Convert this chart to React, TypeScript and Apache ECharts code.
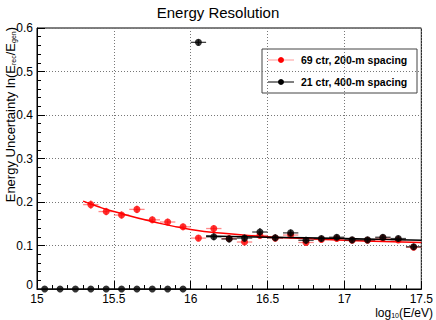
import React, { useEffect, useRef } from "react";
import * as echarts from "echarts";

const FONT = "Liberation Sans, Arial, Helvetica, sans-serif";

const titleText = "Energy Resolution";
const legendNames = ["69 ctr, 200-m spacing", "21 ctr, 400-m spacing"];
const xTicks = [15, 15.5, 16, 16.5, 17, 17.5];

// red: 69 ctr, 200-m spacing
const redX = [15.35, 15.45, 15.55, 15.65, 15.75, 15.85, 15.95, 16.05, 16.15, 16.25, 16.35, 16.45, 16.55, 16.65, 16.75, 16.85, 16.95, 17.05, 17.15, 17.25, 17.35, 17.45];
const redY = [0.194, 0.178, 0.170, 0.183, 0.159, 0.154, 0.143, 0.117, 0.139, 0.116, 0.108, 0.123, 0.117, 0.124, 0.107, 0.114, 0.116, 0.112, 0.112, 0.117, 0.113, 0.096];
const redYErr = [0.010, 0.009, 0.009, 0.009, 0.008, 0.008, 0.008, 0.007, 0.008, 0.007, 0.007, 0.007, 0.007, 0.007, 0.007, 0.007, 0.007, 0.007, 0.007, 0.007, 0.007, 0.007];

// black: 21 ctr, 400-m spacing
const blackX = [15.05, 15.15, 15.25, 15.35, 15.45, 15.55, 15.65, 15.75, 15.85, 15.95, 16.05, 16.15, 16.25, 16.35, 16.45, 16.55, 16.65, 16.75, 16.85, 16.95, 17.05, 17.15, 17.25, 17.35, 17.45];
const blackY = [0, 0, 0, 0, 0, 0, 0, 0, 0, 0, 0.567, 0.120, 0.115, 0.117, 0.131, 0.118, 0.129, 0.112, 0.116, 0.119, 0.113, 0.113, 0.119, 0.116, 0.097];
const blackYErr = [0, 0, 0, 0, 0, 0, 0, 0, 0, 0, 0.007, 0.008, 0.008, 0.008, 0.009, 0.008, 0.008, 0.008, 0.007, 0.007, 0.007, 0.007, 0.007, 0.007, 0.007];

const binHalfWidth = 0.05;

// fit curves
const redFitX = [15.3, 15.4, 15.5, 15.75, 16, 16.25, 16.5, 16.75, 17, 17.25, 17.5];
const redFitY = [0.202, 0.189, 0.178, 0.155, 0.137, 0.127, 0.120, 0.116, 0.112, 0.109, 0.107];
const blackFitX = [16.1, 16.5, 17, 17.5];
const blackFitY = [0.122, 0.119, 0.116, 0.112];

function errorSeries(xs: number[], ys: number[], es: number[], color: string, z: number) {
  return {
    type: "custom",
    z,
    silent: true,
    data: xs.map((x, i) => [x, ys[i], es[i]]),
    renderItem: (params: any, api: any) => {
      const x = api.value(0);
      const y = api.value(1);
      const e = api.value(2);
      const l = api.coord([x - binHalfWidth, y]);
      const r = api.coord([x + binHalfWidth, y]);
      const t = api.coord([x, y + e]);
      const b = api.coord([x, y - e]);
      const style = { stroke: color, lineWidth: 1.3 };
      return {
        type: "group",
        children: [
          { type: "line", shape: { x1: l[0], y1: l[1], x2: r[0], y2: r[1] }, style },
          { type: "line", shape: { x1: t[0], y1: t[1], x2: b[0], y2: b[1] }, style },
        ],
      };
    },
  };
}

export default function App() {
  const ref = useRef<HTMLDivElement>(null);
  useEffect(() => {
    document.body.style.margin = "0";
    const chart = echarts.init(ref.current!, null, { renderer: "svg" });
    const gridLine = { show: true, lineStyle: { color: "#777", type: [1, 2], width: 1 } };
    chart.setOption({
      animation: false,
      backgroundColor: "#fff",
      textStyle: { fontFamily: FONT },
      grid: { left: 37, right: 11, top: 28, bottom: 31, show: true, borderColor: "#000", borderWidth: 1, backgroundColor: "transparent" },
      xAxis: {
        type: "value",
        min: 15,
        max: 17.5,
        interval: 0.5,
        axisLine: { show: true, lineStyle: { color: "#000", width: 1 } },
        axisTick: { show: true, inside: true, length: 8, lineStyle: { color: "#000" } },
        minorTick: { show: true, splitNumber: 5, length: 4, lineStyle: { color: "#000" } },
        splitLine: gridLine,
        axisLabel: {
          color: "#000",
          fontSize: 12,
          fontFamily: FONT,
          margin: 4,
          lineHeight: 12,
          showMinLabel: true,
          showMaxLabel: true,
          formatter: (v: number) => (xTicks.includes(v) ? String(v) : ""),
        },
      },
      yAxis: {
        type: "value",
        min: 0,
        max: 0.6,
        interval: 0.1,
        axisLine: { show: true, lineStyle: { color: "#000", width: 1 } },
        axisTick: { show: true, inside: true, length: 8, lineStyle: { color: "#000" } },
        minorTick: { show: true, splitNumber: 5, length: 4, lineStyle: { color: "#000" } },
        splitLine: gridLine,
        axisLabel: {
          color: "#000",
          fontSize: 12,
          fontFamily: FONT,
          margin: 4,
          formatter: (v: number) => (v === 0 ? "{z|0}" : String(Math.round(v * 10) / 10)),
          rich: { z: { fontSize: 12, fontFamily: FONT, color: "#000", lineHeight: 12, padding: [0, 0, 8, 0] } },
        },
      },
      title: {
        text: titleText,
        left: "center",
        top: 0,
        textStyle: { fontSize: 15, fontWeight: "normal", color: "#000", fontFamily: FONT },
      },
      series: [
        errorSeries(redX, redY, redYErr, "rgba(255,40,40,0.55)", 2),
        {
          type: "scatter",
          name: legendNames[0],
          data: redX.map((x, i) => [x, redY[i]]),
          symbol: "circle",
          symbolSize: 7,
          itemStyle: { color: "#ff0000" },
          z: 3,
        },
        {
          type: "line",
          data: redFitX.map((x, i) => [x, redFitY[i]]),
          smooth: true,
          showSymbol: false,
          lineStyle: { color: "#ff0000", width: 1.5 },
          z: 4,
        },
        errorSeries(blackX, blackY, blackYErr, "rgba(20,20,20,0.8)", 5),
        {
          type: "scatter",
          name: legendNames[1],
          data: blackX.map((x, i) => [x, blackY[i]]),
          symbol: "circle",
          symbolSize: 7,
          itemStyle: { color: "#000" },
          z: 6,
        },
        {
          type: "line",
          data: blackFitX.map((x, i) => [x, blackFitY[i]]),
          smooth: true,
          showSymbol: false,
          lineStyle: { color: "#000", width: 1.5 },
          z: 7,
        },
      ],
      graphic: [
        {
          type: "text",
          x: 9,
          y: 27,
          rotation: Math.PI / 2,
          style: {
            text: "{a|Energy Uncertainty ln(E}{s|rec}{a|/E}{s|gen}{a|)}",
            align: "right",
            verticalAlign: "middle",
            fill: "#000",
            rich: {
              a: { fontSize: 13, fontFamily: FONT, fill: "#000", verticalAlign: "bottom", lineHeight: 15 },
              s: { fontSize: 7, fontFamily: FONT, fill: "#000", verticalAlign: "bottom", lineHeight: 11 },
            },
          },
        },
        {
          type: "text",
          x: 433,
          y: 313,
          style: {
            text: "{a|log}{s|10}{a|(E/eV)}",
            align: "right",
            verticalAlign: "middle",
            fill: "#000",
            rich: {
              a: { fontSize: 12, fontFamily: FONT, fill: "#000", verticalAlign: "bottom", lineHeight: 12 },
              s: { fontSize: 7, fontFamily: FONT, fill: "#000", verticalAlign: "bottom", lineHeight: 5 },
            },
          },
        },
        {
          type: "group",
          z: 100,
          children: [
            { type: "rect", shape: { x: 262, y: 49, width: 155, height: 44 }, style: { fill: "#fff", stroke: "#444", lineWidth: 1 } },
            { type: "line", shape: { x1: 268, y1: 60, x2: 294, y2: 60 }, style: { stroke: "#ff9a9a", lineWidth: 1 } },
            { type: "circle", shape: { cx: 281, cy: 60, r: 3 }, style: { fill: "#ff0000" } },
            { type: "text", x: 301, y: 60, style: { text: legendNames[0], fill: "#000", fontSize: 10.5, fontWeight: "bold", fontFamily: FONT, verticalAlign: "middle" } },
            { type: "line", shape: { x1: 268, y1: 82, x2: 294, y2: 82 }, style: { stroke: "#000", lineWidth: 1 } },
            { type: "circle", shape: { cx: 281, cy: 82, r: 3 }, style: { fill: "#000" } },
            { type: "text", x: 301, y: 82, style: { text: legendNames[1], fill: "#000", fontSize: 10.5, fontWeight: "bold", fontFamily: FONT, verticalAlign: "middle" } },
          ],
        },
      ],
    });
    return () => chart.dispose();
  }, []);
  return <div ref={ref} style={{ width: 436, height: 320 }} />;
}
